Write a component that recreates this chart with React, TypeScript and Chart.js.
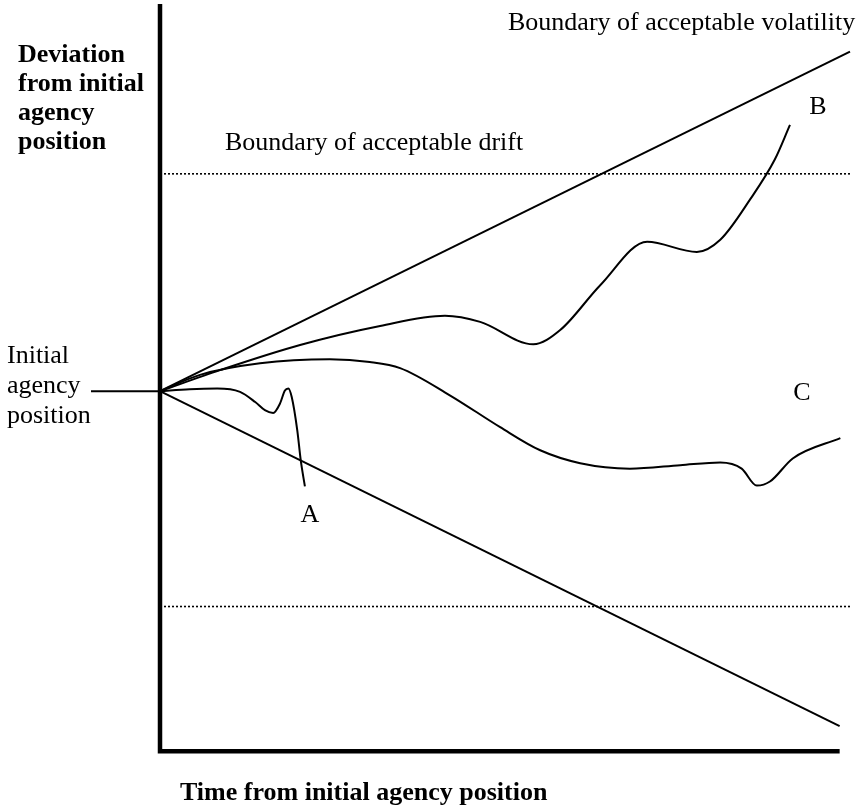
import React, { useEffect, useRef } from "react";
import { Chart, registerables } from "chart.js";

Chart.register(...registerables);

// ---- data (time t, deviation d) ----
const timeMin = -10;
const timeMax = 100;
const devMin = -54;
const devMax = 57;

const volatilityUpperT = [0, 100];
const volatilityUpperD = [0, 50];
const volatilityLowerT = [0, 98.5];
const volatilityLowerD = [0, -49.3];

const driftT = [0, 100];
const driftUpper = 32;
const driftLower = -31.7;

const initialT = [-10, 0];
const initialD = [0, 0];

const axisT = [0, 0, 98.5];
const axisD = [57, -53, -53];

const curveAT = [0, 4.3, 8.3, 11.6, 13.8, 15.2, 16.4, 17.4, 18.1, 18.6, 19.1, 19.9, 20.4, 21.0];
const curveAD = [0, 0.3, 0.4, -0.1, -1.6, -2.8, -3.2, -1.8, 0.1, 0.4, -0.9, -5.8, -10.2, -14.0];

const curveBT = [0, 8.7, 20.3, 31.9, 41.3, 46.4, 54.1, 58.0, 63.8, 70.6, 77.8, 81.2, 85.5, 89.1, 91.3];
const curveBD = [0, 3.1, 6.8, 9.6, 11.1, 10.2, 6.9, 9.0, 15.6, 22.0, 20.5, 22.3, 28.2, 34.1, 39.2];

const curveCT = [0, 5.8, 14.5, 24.6, 30.4, 34.8, 42.0, 49.3, 55.1, 60.9, 68.1, 75.4, 81.2, 84.3, 86.5, 88.4, 91.7, 98.6];
const curveCD = [0, 2.4, 4.1, 4.7, 4.3, 3.4, -0.6, -5.3, -8.7, -10.6, -11.4, -10.9, -10.5, -11.4, -13.9, -13.3, -9.9, -6.9];

const yTitleLines = ["Deviation", "from initial", "agency", "position"];
const xTitle = "Time from initial agency position";
const initialLines = ["Initial", "agency", "position"];
const volatilityLabel = "Boundary of acceptable volatility";
const driftLabel = "Boundary of acceptable drift";
const curveLabels = ["A", "B", "C"];

const zip = (t: number[], d: number[]) => t.map((x, i) => ({ x, y: d[i] }));

const SERIF = "'Liberation Serif', 'Times New Roman', serif";

const textPlugin = {
  id: "diagramText",
  afterDraw(chart: any) {
    const ctx = chart.ctx as CanvasRenderingContext2D;
    ctx.save();
    ctx.fillStyle = "#000";
    ctx.textBaseline = "alphabetic";

    ctx.font = `bold 26px ${SERIF}`;
    ctx.textAlign = "left";
    yTitleLines.forEach((s, i) => ctx.fillText(s, 18, 62 + i * 29));
    ctx.fillText(xTitle, 180, 800);

    ctx.font = `26px ${SERIF}`;
    initialLines.forEach((s, i) => ctx.fillText(s, 7, 363 + i * 30));
    ctx.fillText(volatilityLabel, 508, 30);
    ctx.fillText(driftLabel, 225, 150);

    ctx.textAlign = "center";
    ctx.fillText(curveLabels[0], 310, 522);
    ctx.fillText(curveLabels[1], 818, 114);
    ctx.fillText(curveLabels[2], 802, 400);
    ctx.restore();
  },
};

export default function App() {
  const ref = useRef<HTMLCanvasElement | null>(null);

  useEffect(() => {
    if (!ref.current) return;
    const line = (data: any[], width: number, extra: any = {}) => ({
      data,
      showLine: true,
      borderColor: "#000",
      backgroundColor: "#000",
      borderWidth: width,
      pointRadius: 0,
      fill: false,
      clip: false,
      ...extra,
    });
    const smooth = { cubicInterpolationMode: "monotone" };
    const dotted = { borderDash: [2, 2], borderCapStyle: "butt" };

    const chart = new Chart(ref.current, {
      type: "scatter",
      data: {
        datasets: [
          line(zip(axisT, axisD), 4.5, { borderJoinStyle: "miter", borderCapStyle: "butt" }),
          line(zip(initialT, initialD), 2),
          line(zip(volatilityUpperT, volatilityUpperD), 2),
          line(zip(volatilityLowerT, volatilityLowerD), 2),
          line(zip(driftT, driftT.map(() => driftUpper)), 1.6, dotted),
          line(zip(driftT, driftT.map(() => driftLower)), 1.6, dotted),
          line(zip(curveAT, curveAD), 2, smooth),
          line(zip(curveBT, curveBD), 2, smooth),
          line(zip(curveCT, curveCD), 2, smooth),
        ],
      },
      options: {
        responsive: false,
        animation: false,
        layout: { padding: { left: 91, right: 16, top: 4, bottom: 50 } },
        plugins: { legend: { display: false }, tooltip: { enabled: false }, title: { display: false } },
        scales: {
          x: { type: "linear", display: false, min: timeMin, max: timeMax },
          y: { type: "linear", display: false, min: devMin, max: devMax },
        },
      },
      plugins: [textPlugin],
    } as any);
    return () => chart.destroy();
  }, []);

  return (
    <div style={{ position: "absolute", left: 0, top: 0, width: 866, height: 808, background: "#fff" }}>
      <canvas ref={ref} width={866} height={808} />
    </div>
  );
}
